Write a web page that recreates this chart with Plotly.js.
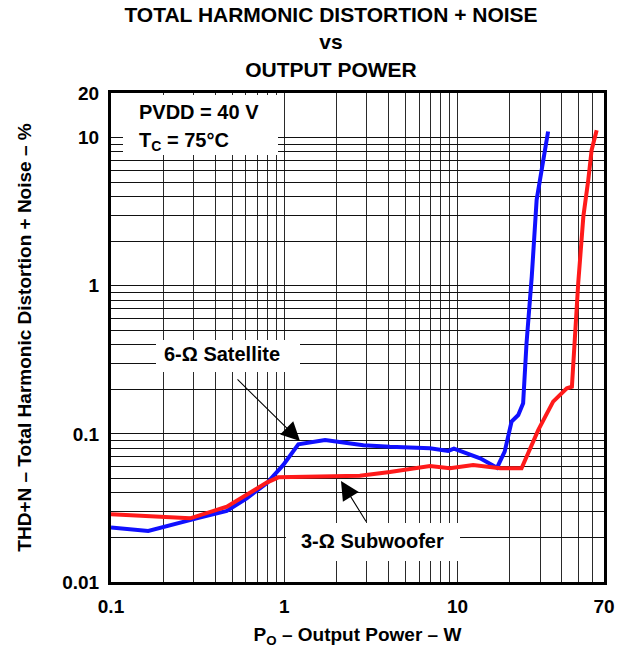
<!DOCTYPE html>
<html>
<head>
<meta charset="utf-8">
<script src="https://cdn.plot.ly/plotly-3.0.1.min.js"></script>
<style>html,body{margin:0;padding:0;background:#fff;}</style>
</head>
<body>
<div id="chart" style="width:626px;height:648px;"></div>
<script>
// 6-Ω Satellite (blue)
const satPower = [0.1, 0.164, 0.312, 0.466, 0.607, 0.792, 0.987, 1.205, 1.72, 2.86, 4.07, 6.93, 8.83, 9.53, 13.5, 16.9, 18.7, 20.5, 22.4, 23.9, 25.0, 26.8, 28.6, 30.6, 33.3];
const satThd   = [0.0233, 0.0221, 0.0269, 0.0302, 0.0367, 0.0464, 0.0617, 0.0851, 0.091, 0.0838, 0.0818, 0.080, 0.0767, 0.0794, 0.0684, 0.0591, 0.0759, 0.121, 0.134, 0.161, 0.409, 1.15, 3.80, 6.37, 11.0];
// 3-Ω Subwoofer (red)
const subPower = [0.1, 0.286, 0.466, 0.792, 0.923, 2.10, 2.73, 4.07, 6.93, 9.04, 12.3, 17.6, 23.4, 29.2, 35.6, 42.7, 45.7, 49.7, 53.2, 56.8, 59.4, 63.5];
const subThd   = [0.0287, 0.0269, 0.0322, 0.0469, 0.0509, 0.0514, 0.0522, 0.0552, 0.0607, 0.0586, 0.0617, 0.0586, 0.0586, 0.106, 0.165, 0.203, 0.208, 1.04, 2.93, 5.18, 8.26, 11.2];

const xTickVals = [0.1,0.2,0.3,0.4,0.5,0.6,0.7,0.8,0.9,1,2,3,4,5,6,7,8,9,10,20,30,40,50,60,70];
const xTickText = ['0.1','','','','','','','','','1','','','','','','','','','10','','','','','','70'];
const yTickVals = [0.01,0.02,0.03,0.04,0.05,0.06,0.07,0.08,0.09,0.1,0.2,0.3,0.4,0.5,0.6,0.7,0.8,0.9,1,2,3,4,5,6,7,8,9,10,20];
const yTickText = ['0.01','','','','','','','','','0.1','','','','','','','','','1','','','','','','','','','10','20'];

const FONT = 'Liberation Sans, Arial, Helvetica, sans-serif';
const bold = (size) => ({family: FONT, size: size, color: '#000', weight: 'bold'});

// pixel helpers for plot-area placement (paper coords)
const L = 111, R = 604, T = 93, B = 582;
const px = (x) => (x - L) / (R - L);
const py = (y) => (B - y) / (B - T);

const traces = [
  {x: satPower, y: satThd, type: 'scatter', mode: 'lines', name: '6-Ω Satellite',
   line: {color: '#1010ff', width: 4}},
  {x: subPower, y: subThd, type: 'scatter', mode: 'lines', name: '3-Ω Subwoofer',
   line: {color: '#ff1a1a', width: 4}}
];

const layout = {
  width: 626, height: 648,
  margin: {l: L, r: 626 - R, t: T, b: 648 - B},
  paper_bgcolor: '#fff', plot_bgcolor: '#fff',
  showlegend: false,
  font: bold(20),
  title: {
    text: 'TOTAL HARMONIC DISTORTION + NOISE<br>vs<br>OUTPUT POWER',
    font: bold(21),
    x: 331 / 626, xref: 'container', xanchor: 'center',
    y: 1 - 22 / 648, yref: 'container', yanchor: 'middle'
  },
  xaxis: {
    type: 'log', range: [-1, Math.log10(70) + 1e-6],
    tickmode: 'array', tickvals: xTickVals, ticktext: xTickText,
    showgrid: true, gridcolor: '#2a2a2a', gridwidth: 1,
    zeroline: false, ticks: '', showline: true, linecolor: '#000', linewidth: 3, mirror: true,
    tickfont: bold(19), ticklabelstandoff: 5,
    title: {text: 'P<sub>O</sub> – Output Power – W', font: bold(19), standoff: 12}
  },
  yaxis: {
    type: 'log', range: [-2, Math.log10(20) + 1e-6],
    tickmode: 'array', tickvals: yTickVals, ticktext: yTickText,
    showgrid: true, gridcolor: '#111', gridwidth: 1,
    zeroline: false, ticks: '', showline: true, linecolor: '#000', linewidth: 3, mirror: true,
    tickfont: bold(19), ticklabelstandoff: 5,
    title: {text: 'THD+N – Total Harmonic Distortion + Noise – %', font: bold(19), standoff: 26}
  },
  shapes: [
    {type: 'rect', xref: 'paper', yref: 'paper', layer: 'above',
     x0: px(123), x1: px(278), y0: py(155), y1: py(95), fillcolor: '#fff', line: {width: 0}},
    {type: 'rect', xref: 'paper', yref: 'paper', layer: 'above',
     x0: px(156), x1: px(300), y0: py(372), y1: py(340), fillcolor: '#fff', line: {width: 0}},
    {type: 'rect', xref: 'paper', yref: 'paper', layer: 'above',
     x0: px(286), x1: px(460), y0: py(561), y1: py(523), fillcolor: '#fff', line: {width: 0}}
  ],
  annotations: [
    {text: 'PVDD = 40 V', xref: 'paper', yref: 'paper', x: px(137), y: py(112),
     xanchor: 'left', yanchor: 'middle', showarrow: false, font: bold(20)},
    {text: 'T<sub>C</sub> = 75°C', xref: 'paper', yref: 'paper', x: px(137), y: py(141),
     xanchor: 'left', yanchor: 'middle', showarrow: false, font: bold(20)},
    {text: '6-Ω Satellite', xref: 'paper', yref: 'paper', x: px(222), y: py(354),
     xanchor: 'center', yanchor: 'middle', showarrow: false, font: bold(20)},
    {text: '3-Ω Subwoofer', xref: 'paper', yref: 'paper', x: px(372), y: py(541),
     xanchor: 'center', yanchor: 'middle', showarrow: false, font: bold(20)},
    // arrows
    {text: '', xref: 'paper', yref: 'paper', x: px(300), y: py(441),
     showarrow: true, ax: -64, ay: -63, arrowhead: 2, arrowsize: 3.4, arrowwidth: 1.1, arrowcolor: '#000', standoff: 0},
    {text: '', xref: 'paper', yref: 'paper', x: px(341), y: py(481),
     showarrow: true, ax: 26, ay: 42, arrowhead: 2, arrowsize: 3.4, arrowwidth: 1.1, arrowcolor: '#000', standoff: 0}
  ]
};

Plotly.newPlot('chart', traces, layout, {staticPlot: true, displayModeBar: false});
</script>
</body>
</html>
